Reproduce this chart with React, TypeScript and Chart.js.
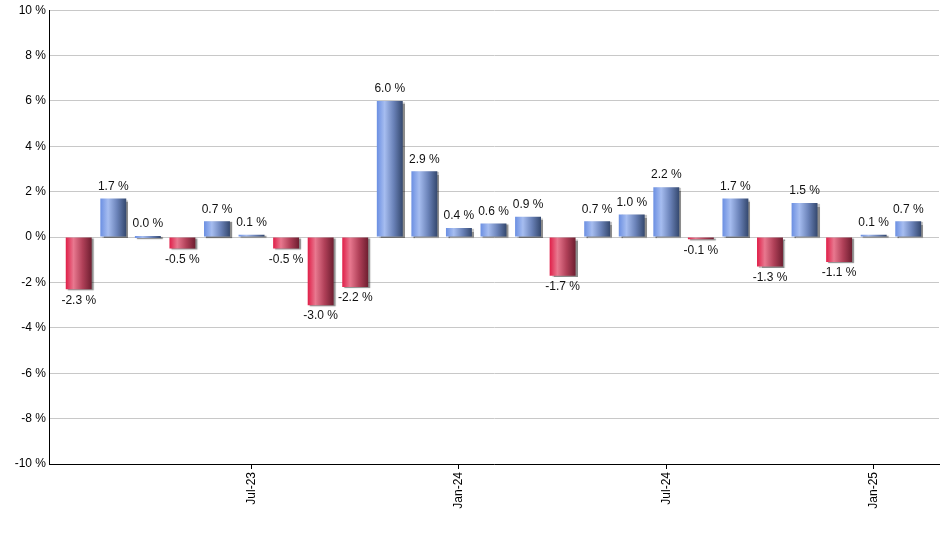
import React, { useEffect, useRef } from "react";
import { Chart, registerables } from "chart.js";

Chart.register(...registerables);

const months = [
  "Feb-23", "Mar-23", "Apr-23", "May-23", "Jun-23", "Jul-23", "Aug-23", "Sep-23", "Oct-23",
  "Nov-23", "Dec-23", "Jan-24", "Feb-24", "Mar-24", "Apr-24", "May-24", "Jun-24", "Jul-24",
  "Aug-24", "Sep-24", "Oct-24", "Nov-24", "Dec-24", "Jan-25", "Feb-25",
];
const returns = [
  -2.3, 1.7, 0.0, -0.5, 0.7, 0.1, -0.5, -3.0, -2.2, 6.0, 2.9, 0.4, 0.6, 0.9, -1.7, 0.7, 1.0,
  2.2, -0.1, 1.7, -1.3, 1.5, -1.1, 0.1, 0.7,
];
const xTickIndices = [5, 11, 17, 23];
const yMin = -10;
const yMax = 10;
const yStep = 2;

const FONT = "Arial, 'Liberation Sans', sans-serif";
const BAR_FRACTION = 0.75;

function barGradient(c: any) {
  const chart = c.chart;
  const xs = chart.scales && chart.scales.x;
  const i = c.dataIndex;
  const v = returns[i] ?? 0;
  const pos = v >= 0;
  const fallback = pos ? "#7d9be0" : "#d83a5a";
  if (!xs || i == null) return fallback;
  const cx = xs.getPixelForValue(i);
  const unit = xs.getPixelForValue(1) - xs.getPixelForValue(0);
  if (!isFinite(cx) || !isFinite(unit) || unit <= 0) return fallback;
  const w = unit * BAR_FRACTION;
  const g = chart.ctx.createLinearGradient(cx - w / 2, 0, cx + w / 2, 0);
  if (pos) {
    g.addColorStop(0, "#6b8fe2");
    g.addColorStop(0.3, "#a6bdf0");
    g.addColorStop(0.65, "#6a82b8");
    g.addColorStop(1, "#34486e");
  } else {
    g.addColorStop(0, "#e01e48");
    g.addColorStop(0.3, "#e8788f");
    g.addColorStop(0.65, "#b04058");
    g.addColorStop(1, "#6e1e30");
  }
  return g;
}

const shadowPlugin = {
  id: "barShadow",
  beforeDatasetsDraw(chart: any) {
    const ctx = chart.ctx;
    ctx.save();
    ctx.shadowColor = "rgba(0,0,0,0.45)";
    ctx.shadowOffsetX = 2;
    ctx.shadowOffsetY = 1;
    ctx.shadowBlur = 1;
  },
  afterDatasetsDraw(chart: any) {
    chart.ctx.restore();
  },
};

const labelPlugin = {
  id: "valueLabels",
  afterDraw(chart: any) {
    const ctx = chart.ctx;
    const meta = chart.getDatasetMeta(0);
    ctx.save();
    ctx.font = `12px ${FONT}`;
    ctx.fillStyle = "#111";
    ctx.textAlign = "center";
    ctx.textBaseline = "middle";
    meta.data.forEach((el: any, i: number) => {
      const v = returns[i];
      const text = `${v.toFixed(1)} %`;
      const y = v >= 0 ? Math.min(el.y, el.base) - 12 : Math.max(el.y, el.base) + 11;
      ctx.fillText(text, el.x, y);
    });
    ctx.restore();
  },
};

export default function App() {
  const ref = useRef<HTMLCanvasElement | null>(null);

  useEffect(() => {
    if (!ref.current) return;
    const chart = new Chart(ref.current, {
      type: "bar",
      data: {
        datasets: [
          {
            data: returns.map((v, i) => ({ x: i, y: v })),
            backgroundColor: barGradient as any,
            borderWidth: 0,
            barPercentage: BAR_FRACTION,
            categoryPercentage: 1,
            minBarLength: 2,
          },
        ],
      },
      options: {
        responsive: false,
        animation: false,
        events: [],
        layout: { padding: { top: 9, right: 1, left: 0, bottom: 0 } },
        plugins: {
          legend: { display: false },
          tooltip: { enabled: false },
        },
        scales: {
          x: {
            type: "linear",
            min: -0.86,
            max: 24.89,
            offset: false,
            afterBuildTicks: (scale: any) => {
              scale.ticks = xTickIndices.map((v) => ({ value: v }));
            },
            afterFit: (scale: any) => {
              scale.height = 86;
            },
            ticks: {
              autoSkip: false,
              minRotation: 90,
              maxRotation: 90,
              padding: 3,
              color: "#000",
              font: { family: FONT, size: 12 },
              callback: (value: any) => months[Math.round(Number(value))] ?? "",
            },
            grid: {
              offset: false,
              drawOnChartArea: false,
              drawTicks: true,
              tickLength: 5,
              color: "#000",
              lineWidth: 1,
            },
            border: { display: true, color: "#000", width: 1 },
          },
          y: {
            min: yMin,
            max: yMax,
            afterFit: (scale: any) => {
              scale.width = 49;
            },
            ticks: {
              stepSize: yStep,
              padding: 3,
              color: "#000",
              font: { family: FONT, size: 12 },
              callback: (value: any) => `${value} %`,
            },
            grid: {
              color: "#c8c8c8",
              lineWidth: 1,
              drawTicks: false,
            },
            border: { display: true, color: "#000", width: 1 },
          },
        },
      },
      plugins: [shadowPlugin, labelPlugin],
    });
    return () => chart.destroy();
  }, []);

  return (
    <div style={{ position: "absolute", left: 0, top: 0, width: 940, height: 550, background: "#fff" }}>
      <canvas ref={ref} width={940} height={550} style={{ display: "block" }} />
    </div>
  );
}
